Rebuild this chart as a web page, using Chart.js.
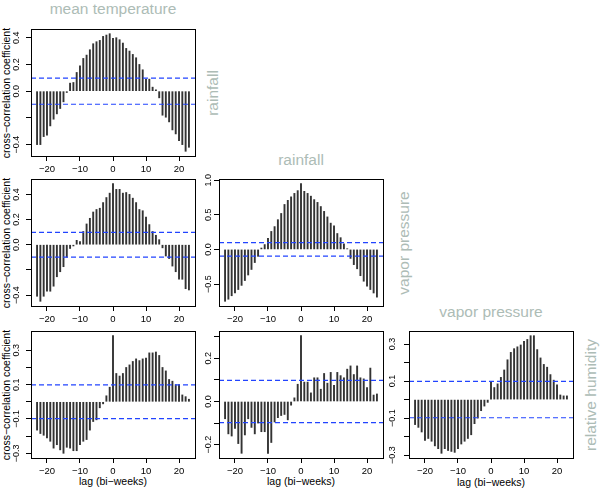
<!DOCTYPE html>
<html>
<head>
<meta charset="utf-8">
<script src="https://cdn.jsdelivr.net/npm/chart.js@4.4.1/dist/chart.umd.min.js"></script>
<style>
body { margin: 0; background: #fff; width: 600px; height: 491px; position: relative; overflow: hidden;
       font-family: "Liberation Sans", Arial, sans-serif; }
canvas { position: absolute; }
.t { position: absolute; white-space: nowrap; line-height: 1; transform: translate(-50%, -50%); }
.big { font-size: 15.5px; color: #adbcb6; }
.ax { font-size: 10.5px; color: #000; }
.rot { transform: translate(-50%, -50%) rotate(-90deg); }
</style>
</head>
<body>
<div class="t big" style="left:113px; top:9px">mean temperature</div>
<div class="t big" style="left:301px; top:160px">rainfall</div>
<div class="t big" style="left:491px; top:312px">vapor pressure</div>
<div class="t big rot" style="left:213px; top:93px">rainfall</div>
<div class="t big rot" style="left:404px; top:243px">vapor pressure</div>
<div class="t big rot" style="left:591px; top:395px">relative humidity</div>
<div class="t ax rot" style="left:6px; top:93px">cross−correlation coefficient</div>
<div class="t ax rot" style="left:6px; top:243px">cross−correlation coefficient</div>
<div class="t ax rot" style="left:6px; top:395px">cross−correlation coefficient</div>
<div class="t ax" style="left:113px; top:481px">lag (bi−weeks)</div>
<div class="t ax" style="left:301px; top:481px">lag (bi−weeks)</div>
<div class="t ax" style="left:491px; top:482px">lag (bi−weeks)</div>

<script>
// ===== DATA =====
const lags = [-23, -22, -21, -20, -19, -18, -17, -16, -15, -14, -13, -12, -11, -10, -9, -8, -7, -6, -5, -4, -3, -2, -1,
              0, 1, 2, 3, 4, 5, 6, 7, 8, 9, 10, 11, 12, 13, 14, 15, 16, 17, 18, 19, 20, 21, 22, 23];

// 95% limit drawn as the blue dashed lines
const clim = 0.098;

// mean temperature x rainfall
const tempRain = [-0.40, -0.40, -0.34, -0.33, -0.26, -0.21, -0.17, -0.13, -0.08, -0.01, 0.06, 0.065, 0.14, 0.19, 0.245, 0.27, 0.31, 0.355, 0.37, 0.38, 0.41, 0.42, 0.43,
                  0.395, 0.40, 0.385, 0.36, 0.32, 0.30, 0.275, 0.25, 0.20, 0.16, 0.09, 0.09, 0.03, 0.01, -0.05, -0.18, -0.195, -0.23, -0.29, -0.32, -0.37, -0.40, -0.45, -0.42];
// mean temperature x vapor pressure
const tempVapor = [-0.41, -0.45, -0.41, -0.37, -0.37, -0.33, -0.255, -0.215, -0.175, -0.10, -0.03, -0.01, 0.035, 0.025, 0.105, 0.165, 0.21, 0.26, 0.28, 0.29, 0.335, 0.375, 0.41,
                   0.485, 0.44, 0.44, 0.41, 0.415, 0.40, 0.37, 0.335, 0.28, 0.27, 0.22, 0.16, 0.105, 0.075, 0.04, -0.025, -0.09, -0.11, -0.17, -0.215, -0.275, -0.275, -0.35, -0.36];
// rainfall x vapor pressure
const rainVapor = [-0.75, -0.72, -0.67, -0.63, -0.58, -0.52, -0.45, -0.37, -0.29, -0.19, -0.10, 0.02, 0.07, 0.16, 0.26, 0.33, 0.43, 0.52, 0.65, 0.71, 0.76, 0.81, 0.85,
                   0.95, 0.84, 0.81, 0.77, 0.72, 0.68, 0.62, 0.55, 0.47, 0.38, 0.34, 0.23, 0.17, 0.08, 0.01, -0.13, -0.22, -0.28, -0.38, -0.46, -0.53, -0.58, -0.63, -0.69];
// mean temperature x relative humidity
const tempHumid = [-0.165, -0.185, -0.195, -0.21, -0.23, -0.27, -0.25, -0.28, -0.30, -0.265, -0.27, -0.285, -0.285, -0.25, -0.23, -0.22, -0.165, -0.115, -0.105, -0.035, -0.012, 0.035, 0.085,
                   0.385, 0.165, 0.15, 0.165, 0.20, 0.215, 0.235, 0.25, 0.24, 0.25, 0.255, 0.285, 0.285, 0.29, 0.27, 0.20, 0.18, 0.13, 0.12, 0.10, 0.10, 0.04, 0.03, 0.015];
// rainfall x relative humidity
const rainHumid = [-0.08, -0.15, -0.16, -0.125, -0.195, -0.24, -0.155, -0.08, -0.12, -0.15, -0.10, -0.14, -0.14, -0.24, -0.19, -0.095, -0.075, -0.065, -0.06, -0.085, -0.017, 0.017, 0.08,
                   0.305, 0.09, 0.09, 0.04, 0.11, 0.11, 0.057, 0.13, 0.085, 0.135, 0.075, 0.135, 0.12, 0.11, 0.15, 0.165, 0.125, 0.165, 0.11, 0.105, 0.065, 0.155, 0.03, 0.035];
// vapor pressure x relative humidity
const vaporHumid = [-0.135, -0.15, -0.175, -0.22, -0.21, -0.225, -0.25, -0.265, -0.29, -0.265, -0.275, -0.28, -0.285, -0.265, -0.24, -0.225, -0.21, -0.19, -0.13, -0.10, -0.06, -0.035, -0.015,
                    0.098, 0.065, 0.085, 0.12, 0.16, 0.215, 0.255, 0.275, 0.285, 0.295, 0.315, 0.325, 0.345, 0.345, 0.27, 0.225, 0.19, 0.175, 0.135, 0.105, 0.08, 0.025, 0.02, 0.02];

// tick values and which of them carry a label
const xTicks = [-20, -10, 0, 10, 20];
const yTicksA = [-0.4, -0.2, 0, 0.2, 0.4];
const yShownA = [-0.4, 0, 0.2, 0.4];
const yTicksB = [-0.5, 0, 0.5, 1.0];
const yShownB = [-0.5, 0, 0.5, 1.0];
const yTicksC = [-0.3, -0.2, -0.1, 0, 0.1, 0.2, 0.3];
const yShownC = [-0.3, -0.1, 0.1, 0.3];
const yTicksD = [-0.2, -0.1, 0, 0.1, 0.2, 0.3];
const yShownD = [-0.2, 0, 0.2];

// ===== LAYOUT =====
const W = 164, H = 127;          // plot box
const AX = 31, XB = 26;          // y axis width, x axis height
const PT = 10, PR = 10;          // spare room above / right of the box
const TL = 5;                    // tick length
const FONT = "Liberation Sans";
const xMin = -24.84, xMax = 24.84;   // R's 4% axis extension

const panels = [
  { series: tempRain,   yTicks: yTicksA, yShown: yShownA, left: 31,  top: 29,  gap: 14 },
  { series: tempVapor,  yTicks: yTicksA, yShown: yShownA, left: 31,  top: 179, gap: 14 },
  { series: rainVapor,  yTicks: yTicksB, yShown: yShownB, left: 219, top: 179, gap: 10 },
  { series: tempHumid,  yTicks: yTicksC, yShown: yShownC, left: 31,  top: 331, gap: 14 },
  { series: rainHumid,  yTicks: yTicksD, yShown: yShownD, left: 219, top: 331, gap: 10 },
  { series: vaporHumid, yTicks: yTicksC, yShown: yShownC, left: 409, top: 331, gap: 16 }
];

const minus = s => s.replace('-', '\u2212');
const fmtX = v => minus(String(v));
const fmtY = v => minus(v.toFixed(1));

const measure = document.createElement('canvas').getContext('2d');
measure.font = '9px "' + FONT + '"';

const boxPlugin = {
  id: 'box',
  afterDraw(chart) {
    const { ctx, chartArea: a } = chart;
    ctx.save();
    ctx.strokeStyle = '#000';
    ctx.lineWidth = 1;
    ctx.strokeRect(a.left + 0.5, a.top + 0.5, a.right - a.left, a.bottom - a.top);
    ctx.restore();
  }
};

function makePanel(p) {
  const canvas = document.createElement('canvas');
  canvas.width = AX + W + PR;
  canvas.height = PT + H + XB;
  canvas.style.left = (p.left - AX) + 'px';
  canvas.style.top = (p.top - PT) + 'px';
  document.body.appendChild(canvas);

  const lo = Math.min(...p.series, -clim);
  const hi = Math.max(...p.series, clim);
  const ext = (hi - lo) * 0.04;
  const widest = Math.max(...p.yShown.map(v => measure.measureText(fmtY(v)).width));

  const limLine = y => ({
    type: 'line',
    data: [{ x: xMin, y: y }, { x: xMax, y: y }],
    borderColor: '#2244ff',
    borderWidth: 1.2,
    borderDash: [5, 3],
    pointRadius: 0,
    order: 0
  });

  new Chart(canvas, {
    type: 'bar',
    data: {
      datasets: [
        limLine(clim),
        limLine(-clim),
        {
          type: 'bar',
          data: lags.map((l, i) => ({ x: l, y: p.series[i] })),
          backgroundColor: '#333333',
          barThickness: 1.25,
          order: 1
        }
      ]
    },
    options: {
      responsive: false,
      animation: false,
      events: [],
      layout: { padding: { top: PT, right: PR, left: 0, bottom: 0 } },
      plugins: { legend: { display: false }, tooltip: { enabled: false } },
      scales: {
        x: {
          type: 'linear', min: xMin, max: xMax, offset: false,
          afterBuildTicks: s => { s.ticks = xTicks.map(v => ({ value: v })); },
          afterFit: s => { s.height = XB; },
          grid: { offset: false, drawOnChartArea: false, drawTicks: true, tickLength: TL, color: '#000' },
          border: { display: false },
          ticks: { font: { family: FONT, size: 9.5 }, color: '#000', padding: 3, maxRotation: 0,
                   autoSkip: false, callback: v => fmtX(v) }
        },
        y: {
          type: 'linear', min: lo - ext, max: hi + ext,
          afterBuildTicks: s => { s.ticks = p.yTicks.map(v => ({ value: v })); },
          afterFit: s => { s.width = AX; },
          grid: { drawOnChartArea: false, drawTicks: true, tickLength: TL, color: '#000' },
          border: { display: false },
          ticks: { font: { family: FONT, size: 9 }, color: '#000', minRotation: 90, maxRotation: 90,
                   crossAlign: 'center', padding: p.gap - TL - widest / 2, autoSkip: false,
                   callback: v => p.yShown.includes(v) ? fmtY(v) : '' }
        }
      }
    },
    plugins: [boxPlugin]
  });
}

panels.forEach(makePanel);
</script>
</body>
</html>
